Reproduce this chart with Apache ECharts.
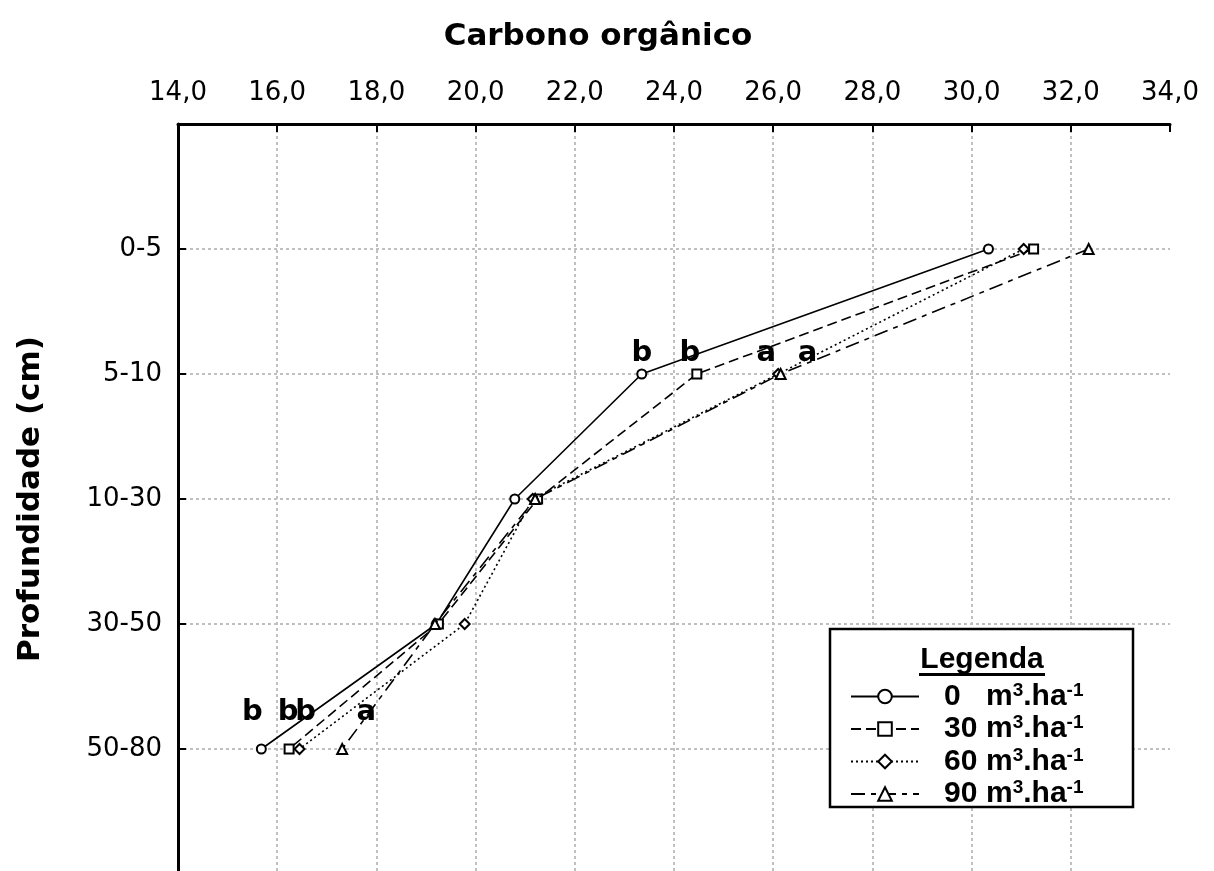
<!DOCTYPE html>
<html>
<head>
<meta charset="utf-8">
<script src="https://cdn.jsdelivr.net/npm/echarts@6/dist/echarts.min.js"></script>
<style>
  html, body { margin: 0; padding: 0; background: #fff; }
  #chart { width: 1214px; height: 871px; }
</style>
</head>
<body>
<div id="chart"></div>
<script>
// Soil depth layers (cm), top to bottom
const depthLabels = ['0-5', '5-10', '10-30', '30-50', '50-80'];

// Organic-residue doses (m3.ha-1)
const doseNames = ['0', '30', '60', '90'];

// Organic carbon per depth layer, one array per dose
const carbon0  = [30.34, 23.35, 20.79, 19.21, 15.68];
const carbon30 = [31.25, 24.46, 21.25, 19.25, 16.24];
const carbon60 = [31.05, 26.10, 21.15, 19.78, 16.45];
const carbon90 = [32.36, 26.15, 21.20, 19.18, 17.31];

// Mean-comparison letters (one per dose) for the 5-10 and 50-80 layers
const letters5to10  = ['b', 'b', 'a', 'a'];
const letters50to80 = ['b', 'b', 'b', 'a'];

// Carbon axis range
const carbonMin = 14;
const carbonMax = 34;
const carbonStep = 2;

const seriesValues = [carbon0, carbon30, carbon60, carbon90];
const symbols = ['emptyCircle', 'emptyRect', 'emptyDiamond', 'emptyTriangle'];
const symbolSizes = [9, 9, 10, 10];
const dashTypes = ['solid', [10, 5], [2, 3], [14, 6, 5, 6]];
const offsets5to10  = [[0, -21], [-7, -21], [-12, -21], [27, -21]];
const offsets50to80 = [[-9, -37], [-1, -37], [6, -37], [24, -37]];

const letterStyle = {
  show: true,
  position: 'inside',
  color: '#000',
  fontFamily: 'DejaVu Sans',
  fontWeight: 'bold',
  fontSize: 29
};

const series = seriesValues.map(function (values, s) {
  const data = values.map(function (v, i) {
    const item = { value: [v, i + 1] };
    if (i === 1) {
      item.label = Object.assign({}, letterStyle, { formatter: letters5to10[s], offset: offsets5to10[s] });
    } else if (i === 4) {
      item.label = Object.assign({}, letterStyle, { formatter: letters50to80[s], offset: offsets50to80[s] });
    }
    return item;
  });
  return {
    name: doseNames[s],
    type: 'line',
    data: data,
    symbol: symbols[s],
    symbolSize: symbolSizes[s],
    showAllSymbol: true,
    label: { show: false },
    itemStyle: { color: '#000', borderColor: '#000', borderWidth: 1.4 },
    lineStyle: { color: '#000', width: 1.6, type: dashTypes[s] },
    emphasis: { disabled: true },
    silent: true,
    animation: false,
    z: 3 + s
  };
});

const gridLine = { show: true, lineStyle: { color: '#c0c0c0', width: 2, type: [3, 3] } };

const option = {
  backgroundColor: '#fff',
  animation: false,
  grid: { left: 178, right: 44, top: 124, bottom: -3, containLabel: false, outerBoundsMode: 'none' },
  xAxis: {
    type: 'value',
    position: 'top',
    min: carbonMin,
    max: carbonMax,
    interval: carbonStep,
    axisLine: { show: true, onZero: false, lineStyle: { color: '#000', width: 3 } },
    axisTick: { show: true, inside: true, length: 8, lineStyle: { color: '#000', width: 2 } },
    axisLabel: {
      margin: 18,
      color: '#000',
      fontFamily: 'DejaVu Sans',
      fontSize: 26,
      formatter: function (v) { return v.toFixed(1).replace('.', ','); }
    },
    splitLine: Object.assign({ showMinLine: false, showMaxLine: false }, gridLine)
  },
  yAxis: {
    type: 'value',
    inverse: true,
    min: 0,
    max: 6,
    interval: 1,
    axisLine: { show: true, onZero: false, lineStyle: { color: '#000', width: 3 } },
    axisTick: { show: true, inside: true, length: 8, lineStyle: { color: '#000', width: 2 } },
    axisLabel: {
      margin: 16,
      color: '#000',
      fontFamily: 'DejaVu Sans',
      fontSize: 26,
      formatter: function (v) { return depthLabels[Math.round(v) - 1] || ''; }
    },
    splitLine: Object.assign({ showMinLine: false }, gridLine),
    name: 'Profundidade (cm)',
    nameLocation: 'middle',
    nameGap: 132,
    nameRotate: 90,
    nameTextStyle: { color: '#000', fontFamily: 'DejaVu Sans', fontWeight: 'bold', fontSize: 31 }
  },
  legend: {
    data: doseNames,
    orient: 'vertical',
    left: 850,
    top: 681,
    padding: 0,
    itemWidth: 68,
    itemHeight: 17,
    itemGap: 2,
    selectedMode: false,
    z: 10,
    formatter: function (name) {
      return '{n|' + name + '}{t|m}{s|3}{t|.ha}{s|-1}';
    },
    textStyle: {
      color: '#000',
      rich: {
        n: { width: 42, padding: [0, 0, 0, 20], fontFamily: 'Liberation Sans', fontWeight: 'bold', fontSize: 30, lineHeight: 31, color: '#000' },
        t: { fontFamily: 'Liberation Sans', fontWeight: 'bold', fontSize: 30, lineHeight: 31, color: '#000' },
        s: { fontFamily: 'Liberation Sans', fontWeight: 'bold', fontSize: 19, lineHeight: 31, verticalAlign: 'top', color: '#000' }
      }
    }
  },
  graphic: [
    {
      type: 'text',
      x: 598,
      y: 37,
      style: {
        text: 'Carbono orgânico',
        fill: '#000',
        fontFamily: 'DejaVu Sans',
        fontWeight: 'bold',
        fontSize: 31,
        align: 'center',
        verticalAlign: 'middle'
      }
    },
    {
      type: 'rect',
      z: 8,
      shape: { x: 830, y: 629, width: 303, height: 178 },
      style: { fill: '#fff', stroke: '#000', lineWidth: 2.5 }
    },
    {
      type: 'text',
      z: 9,
      x: 982,
      y: 660,
      style: {
        text: 'Legenda',
        fill: '#000',
        fontFamily: 'Liberation Sans',
        fontWeight: 'bold',
        fontSize: 30,
        align: 'center',
        verticalAlign: 'middle'
      }
    },
    {
      type: 'line',
      z: 9,
      shape: { x1: 919, y1: 674.5, x2: 1045, y2: 674.5 },
      style: { stroke: '#000', lineWidth: 3 }
    }
  ],
  series: series
};

const chart = echarts.init(document.getElementById('chart'), null, { renderer: 'canvas' });
chart.setOption(option);
</script>
</body>
</html>
